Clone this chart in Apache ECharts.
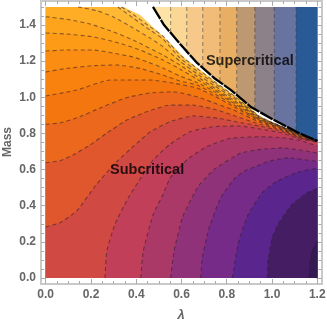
<!DOCTYPE html>
<html>
<head>
<meta charset="utf-8">
<style>html,body{margin:0;padding:0;background:#fff}</style>
</head>
<body>
<div id="container" style="width:327px;height:322px"></div>
<script src="https://cdn.jsdelivr.net/npm/echarts@6/dist/echarts.min.js"></script>
<script>
// subcritical contours as [lambda, mass]
var c1 = [[1.163,0],[1.167,.077],[1.177,.15],[1.2,.205]];
var c2 = [[.98,0],[.982,.094],[1.001,.223],[1.031,.306],[1.09,.408],[1.156,.472],[1.2,.496]];
var c3 = [[.825,0],[.85,.186],[.891,.343],[.957,.472],[1.023,.537],[1.112,.585],[1.2,.608]];
var c4 = [[.685,0],[.692,.112],[.722,.278],[.773,.444],[.836,.553],[.888,.598],[.946,.625],[.982,.645],[1.07,.665],[1.2,.645]];
var c5 = [[.552,0],[.567,.149],[.604,.334],[.67,.5],[.744,.601],[.859,.69],[.947,.712],[1.05,.72],[1.2,.692]];
var c6 = [[.42,0],[.431,.149],[.475,.352],[.519,.463],[.549,.552],[.623,.653],[.711,.727],[.815,.773],[.947,.782],[1.05,.776],[1.13,.76],[1.2,.73]];
var c7 = [[.262,0],[.27,.149],[.306,.297],[.365,.444],[.431,.574],[.474,.653],[.549,.74],[.638,.81],[.739,.837],[.859,.841],[.947,.825],[1.035,.805],[1.124,.77],[1.2,.752]];
var c8 = [[0,.282],[.063,.306],[.137,.371],[.225,.519],[.314,.644],[.402,.745],[.461,.808],[.549,.865],[.651,.897],[.757,.885],[.872,.858],[.947,.84],[1.035,.815],[1.124,.775],[1.2,.754]];
var c9 = [[0,.638],[.063,.649],[.121,.681],[.196,.736],[.27,.802],[.358,.874],[.446,.92],[.549,.957],[.651,.957],[.757,.93],[.845,.893],[.947,.85],[1.035,.822],[1.124,.778],[1.2,.755]];
var c10 = [[0,.851],[.063,.858],[.152,.893],[.24,.941],[.328,.985],[.372,1.003],[.461,1.024],[.563,1.031],[.669,1.003],[.757,.963],[.836,.927],[.947,.861],[1.035,.826],[1.124,.781],[1.2,.756]];
var c11 = [[0,1.007],[.137,1.04],[.284,1.096],[.372,1.096],[.461,1.096],[.563,1.079],[.669,1.051],[.748,1.005],[.836,.945],[.947,.868],[1.035,.83],[1.124,.784],[1.2,.757]];
var c12 = [[0,1.14],[.093,1.16],[.209,1.175],[.314,1.179],[.417,1.16],[.518,1.123],[.593,1.09],[.669,1.068],[.748,1.018],[.836,.955],[.947,.872],[1.035,.833],[1.124,.787],[1.2,.758]];
var c13 = [[0,1.256],[.093,1.262],[.209,1.262],[.297,1.245],[.386,1.223],[.448,1.197],[.518,1.162],[.593,1.118],[.669,1.082],[.748,1.03],[.836,.964],[.947,.876],[1.035,.836],[1.124,.789],[1.2,.759]];
var c14 = [[0,1.356],[.093,1.35],[.209,1.335],[.328,1.299],[.417,1.262],[.518,1.206],[.593,1.157],[.669,1.1],[.748,1.04],[.836,.972],[.947,.88],[1.035,.838],[1.124,.791],[1.2,.76]];
var c15 = [[0,1.446],[.093,1.432],[.196,1.406],[.297,1.363],[.386,1.317],[.518,1.234],[.593,1.179],[.669,1.115],[.748,1.05],[.836,.98],[.947,.884],[1.035,.84],[1.124,.793],[1.2,.761]];
var c16 = [[.143,1.5],[.227,1.479],[.297,1.446],[.386,1.384],[.461,1.328],[.518,1.28],[.593,1.2],[.669,1.13],[.748,1.062],[.836,.99],[.947,.887],[1.035,.842],[1.124,.795],[1.2,.762]];
var c17 = [[.319,1.5],[.386,1.439],[.461,1.372],[.518,1.323],[.593,1.218],[.669,1.145],[.748,1.075],[.836,.998],[.947,.89],[1.035,.844],[1.124,.797],[1.2,.763]];
var c18 = [[.335,1.5],[.372,1.472],[.461,1.39],[.518,1.34],[.593,1.235],[.669,1.16],[.748,1.085],[.836,1.005],[.947,.893],[1.035,.841],[1.124,.799],[1.2,.763]];
var contours = [c18,c17,c16,c15,c14,c13,c12,c11,c10,c9,c8,c7,c6,c5,c4,c3,c2,c1];

// edges of the white gap
var lowerEdge = [[.345,1.5],[.417,1.455],[.474,1.389],[.549,1.3],[.624,1.206],[.695,1.14],[.77,1.068],[.845,1.002],[.894,.957],[.938,.902],[1.004,.858],[1.11,.808],[1.2,.764]];
var criticalLine = [[.474,1.5],[.523,1.4],[.598,1.289],[.669,1.19],[.744,1.107],[.819,1.04],[.907,.946],[1.009,.874],[1.11,.808],[1.2,.758]];

// supercritical vertical contours: lambda and the mass where they meet the critical line
var superLambda = [.552,.623,.694,.77,.844,.924,1.01,1.106];
var superMass = [1.357,1.254,1.162,1.083,1.012,.934,.873,.81];

var subColors = ['#ffcb55','#ffc146','#ffb834','#ffad24','#fea41c','#fd9a16','#fb8e12','#f9820f','#f4760f','#ec681c','#e0572e','#d14943','#c13f58','#aa3968','#90327a','#762b88','#5a258c','#451d62','#341a52'];
var superColors = ['#fde3a6','#fbd795','#f6c98a','#f0bc78','#e8ae63','#bd9870','#8c8189','#69739f','#2a5a95'];

var majorTicks = [0,.2,.4,.6,.8,1,1.2];
var minorX = [.05,.1,.15,.25,.3,.35,.45,.5,.55,.65,.7,.75,.85,.9,.95,1.05,1.1,1.15];
var majorY = [0,.2,.4,.6,.8,1,1.2,1.4];
var minorY = [.05,.1,.15,.25,.3,.35,.45,.5,.55,.65,.7,.75,.85,.9,.95,1.05,1.1,1.15,1.25,1.3,1.35,1.45,1.5];

var xMin = -.0208, xMax = 1.2187, yMin = -.0332, yMax = 1.533;
var topMass = 1.5, rightLambda = 1.2;

var labelFont = {color:'#666', fontFamily:'Liberation Sans', fontWeight:'bold', fontSize:12};

function makeAxis(base, pos, ticks, len, labels) {
    var a = {
        type:'value', min:base[0], max:base[1], position:pos, splitLine:{show:false},
        axisLine:{show:true, onZero:false, lineStyle:{color:'#c9c9c9', width:2}},
        axisTick:{show:true, inside:true, length:len, customValues:ticks, lineStyle:{color:'#aaa', width:1}},
        axisLabel:{show:false}
    };
    if (labels) {
        a.axisLabel = Object.assign({show:true, customValues:ticks, margin:5,
            formatter:function(v){return v.toFixed(1)}}, labelFont);
    }
    return a;
}

var xAxes = [
    makeAxis([xMin,xMax],'bottom',majorTicks,5,true),
    makeAxis([xMin,xMax],'bottom',minorX,3,false),
    makeAxis([xMin,xMax],'top',majorTicks,5,false),
    makeAxis([xMin,xMax],'top',minorX,3,false)
];
var yAxes = [
    makeAxis([yMin,yMax],'left',majorY,5,true),
    makeAxis([yMin,yMax],'left',minorY,3,false),
    makeAxis([yMin,yMax],'right',majorY,5,false),
    makeAxis([yMin,yMax],'right',minorY,3,false)
];

function polygon(points, fill, z) {
    return {
        type:'custom', silent:true, z:z, data:[0],
        renderItem:function(params, api) {
            return {type:'polygon', shape:{points:points.map(function(p){return api.coord(p)})}, style:{fill:fill}};
        }
    };
}

function dashed(points, z) {
    return {
        type:'line', data:points, showSymbol:false, silent:true, z:z, smooth:.15,
        lineStyle:{color:'rgba(45,30,45,.55)', width:1.1, type:[4,3]}
    };
}

var series = [];

// subcritical bands, painted from the outer edge inwards
series.push(polygon(lowerEdge.concat([[rightLambda,0],[0,0],[0,topMass]]), subColors[0], 1));
contours.forEach(function(c, i) {
    var closing;
    if (c[0][1] === 0) closing = [[rightLambda,0]];
    else if (c[0][0] === 0) closing = [[rightLambda,0],[0,0]];
    else closing = [[rightLambda,0],[0,0],[0,topMass]];
    series.push(polygon(c.concat(closing), subColors[i+1], 2+i));
});
contours.forEach(function(c) { series.push(dashed(c, 30)); });

// supercritical bands
series.push(polygon(criticalLine.concat([[rightLambda,topMass]]), superColors[0], 3));
superLambda.forEach(function(l, i) {
    var rest = criticalLine.filter(function(p){return p[0] > l});
    var pts = [[l,topMass],[l,superMass[i]]].concat(rest, [[rightLambda,topMass]]);
    series.push(polygon(pts, superColors[i+1], 4+i));
    series.push({
        type:'line', data:[[l,topMass],[l,superMass[i]]], showSymbol:false, silent:true, z:30,
        lineStyle:{color:'rgba(60,60,60,.5)', width:1.1, type:[4,3]}
    });
});

// critical line
series.push({
    type:'line', data:criticalLine, showSymbol:false, silent:true, z:40,
    lineStyle:{color:'#000', width:2.3, type:[14,1.2]}
});

// region names
series.push({
    type:'scatter', symbolSize:0, silent:true, z:50,
    data:[{value:[.902,1.203],name:'Supercritical'},{value:[.448,.598],name:'Subcritical'}],
    label:{show:true, position:'inside', formatter:'{b}', color:'#000',
        fontFamily:'Liberation Sans', fontWeight:'bold', fontSize:14.5}
});

var myChart = echarts.init(document.getElementById('container'), null, {renderer:'canvas'});
myChart.setOption({
    animation:false,
    backgroundColor:'#fff',
    grid:{left:41, top:1, width:280.5, height:283, outerBoundsMode:'none'},
    xAxis:xAxes,
    yAxis:yAxes,
    series:series,
    // axis names sit by hand, the axis name option pushes them off the page here
    graphic:[
        {type:'text', x:8, y:142, rotation:Math.PI/2, style:{text:'Mass', fill:'#666', font:'bold 12px "Liberation Sans"', align:'center', verticalAlign:'middle'}},
        {type:'text', x:181, y:315, style:{text:'λ', fill:'#666', font:'italic bold 13px "Liberation Sans"', align:'center', verticalAlign:'middle'}}
    ]
});
</script>
</body>
</html>
